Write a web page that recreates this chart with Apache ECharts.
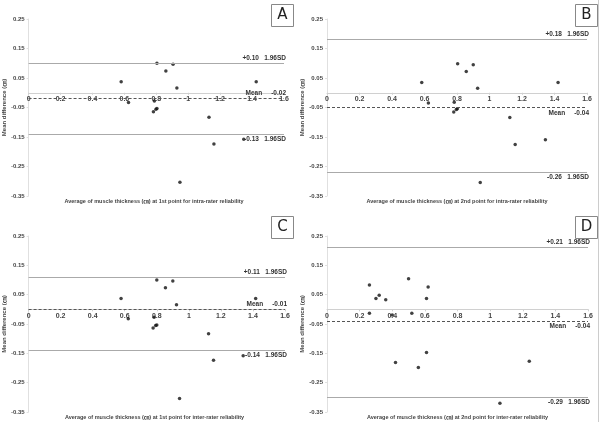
<!DOCTYPE html>
<html>
<head>
<meta charset="utf-8">
<script src="https://cdn.jsdelivr.net/npm/echarts@6/dist/echarts.min.js"></script>
<style>
  html, body { margin: 0; padding: 0; background: #fff; }
  #main { width: 602px; height: 422px; }
</style>
</head>
<body>
<div id="main"></div>
<script>
// Bland-Altman plots, four panels
const panelNames = ['A', 'B', 'C', 'D']
const xTitles = [
  'Average of muscle thickness (㎝) at 1st point for intra-rater reliability',
  'Average of muscle thickness (㎝) at 2nd point for intra-rater reliability',
  'Average of muscle thickness (㎝) at 1st point for inter-rater reliability',
  'Average of muscle thickness (㎝) at 2nd point for inter-rater reliability'
]
const yTitle = 'Mean difference (㎝)'
const xTicks = [0, 0.2, 0.4, 0.6, 0.8, 1, 1.2, 1.4, 1.6]
const yTicks = [-0.35, -0.25, -0.15, -0.05, 0.05, 0.15, 0.25]

const xA = [0.58, 0.626, 0.804, 0.905, 0.86, 0.929, 1.426, 0.788, 0.782, 0.798, 0.804, 1.13, 1.161, 1.348, 0.948]
const yA = [0.037, -0.033, 0.10, 0.097, 0.074, 0.016, 0.037, -0.028, -0.064, -0.056, -0.053, -0.083, -0.174, -0.158, -0.303]
const xB = [0.583, 0.624, 0.804, 0.90, 0.857, 0.927, 1.422, 0.783, 0.78, 0.796, 0.802, 1.125, 1.158, 1.344, 0.943]
const yB = [0.035, -0.035, 0.098, 0.095, 0.072, 0.015, 0.035, -0.032, -0.065, -0.057, -0.054, -0.084, -0.175, -0.159, -0.304]
const xC = [0.577, 0.622, 0.80, 0.90, 0.854, 0.923, 1.417, 0.783, 0.777, 0.793, 0.80, 1.123, 1.154, 1.339, 0.942]
const yC = [0.037, -0.032, 0.10, 0.097, 0.074, 0.016, 0.037, -0.027, -0.064, -0.055, -0.053, -0.083, -0.174, -0.158, -0.304]
const xD = [0.26, 0.26, 0.30, 0.32, 0.36, 0.40, 0.42, 0.50, 0.52, 0.56, 0.61, 0.61, 0.62, 1.06, 1.24]
const yD = [0.083, -0.013, 0.037, 0.048, 0.033, -0.019, -0.181, 0.104, -0.013, -0.198, -0.147, 0.037, 0.076, -0.32, -0.177]

// upper LoA, mean, lower LoA (line positions) and printed labels
const upper = [0.095, 0.178, 0.11, 0.208]
const mean = [-0.02, -0.048, -0.004, -0.044]
const lower = [-0.136, -0.274, -0.142, -0.302]
const upperText = ['+0.10', '+0.18', '+0.11', '+0.21']
const meanText = ['-0.02', '-0.04', '-0.01', '-0.04']
const lowerText = ['-0.13', '-0.26', '-0.14', '-0.29']

const xs = [xA, xB, xC, xD]
const ys = [yA, yB, yC, yD]

const FONT = 'Liberation Sans, Noto Sans CJK KR, sans-serif'
const yMin = yTicks[0]
const yMax = yTicks[yTicks.length - 1]
const grids = [
  { left: 24, top: 19, width: 260, height: 177 },
  { left: 327, top: 19, width: 260, height: 177 },
  { left: 24, top: 236, width: 261, height: 176 },
  { left: 327, top: 236, width: 261, height: 176 }
]

let myChart = echarts.init(document.getElementById('main'))

const option = {
  backgroundColor: '#fff',
  animation: false,
  grid: grids,
  title: grids.map((g, i) => ({
    text: xTitles[i],
    left: g.left + g.width / 2,
    top: g.top + g.height + 3,
    padding: 0,
    textAlign: 'center',
    textStyle: { fontSize: 5.5, fontWeight: 'bold', color: '#444', fontFamily: FONT }
  })),
  // x axis sits on y = 0: pull it up from the bottom edge of the grid
  xAxis: grids.map((g, i) => ({
    gridIndex: i,
    type: 'value',
    position: 'bottom',
    offset: -(0 - yMin) / (yMax - yMin) * g.height,
    min: xTicks[0],
    max: xTicks[xTicks.length - 1],
    interval: 0.2,
    axisLine: { onZero: false, lineStyle: { color: '#d0d0d0', width: 1 } },
    axisTick: { show: true, length: 2, lineStyle: { color: '#d0d0d0' } },
    axisLabel: { fontSize: 7, color: '#444', fontWeight: 'bold', margin: 3, fontFamily: FONT },
    splitLine: { show: false }
  })),
  yAxis: grids.map((g, i) => ({
    gridIndex: i,
    type: 'value',
    min: yMin,
    max: yMax,
    interval: 0.1,
    name: yTitle,
    nameLocation: 'middle',
    nameGap: 19,
    nameTextStyle: { fontSize: 6, fontWeight: 'bold', color: '#444', fontFamily: FONT },
    axisLine: { show: true, onZero: false, lineStyle: { color: '#e0e0e0' } },
    axisTick: { show: true, length: 2, lineStyle: { color: '#e0e0e0' } },
    axisLabel: {
      fontSize: 6, color: '#444', fontWeight: 'bold', margin: 4, fontFamily: FONT,
      formatter: v => v.toFixed(2)
    },
    splitLine: { show: false }
  })),
  series: xs.map((xArr, i) => ({
    type: 'scatter',
    xAxisIndex: i,
    yAxisIndex: i,
    symbol: 'circle',
    symbolSize: 3.5,
    itemStyle: { color: '#111' },
    data: xArr.map((x, k) => [x, ys[i][k]]),
    markLine: {
      silent: true,
      symbol: 'none',
      animation: false,
      label: { fontSize: 6.5, fontWeight: 'bold', color: '#333', fontFamily: FONT, distance: [-2, 2] },
      data: [
        {
          yAxis: upper[i],
          lineStyle: { color: '#aaa', type: 'solid', width: 1 },
          label: { position: 'insideEndTop', formatter: upperText[i] + '   1.96SD' }
        },
        {
          yAxis: mean[i],
          lineStyle: { color: '#555', type: [3, 2], width: 1 },
          label: { position: (i === 0 || i === 2) ? 'insideEndTop' : 'insideEndBottom', formatter: 'Mean     ' + meanText[i] }
        },
        {
          yAxis: lower[i],
          lineStyle: { color: '#aaa', type: 'solid', width: 1 },
          label: { position: 'insideEndBottom', formatter: lowerText[i] + '   1.96SD' }
        }
      ]
    }
  })),
  graphic: [
    { type: 'line', shape: { x1: 598.5, y1: 0, x2: 598.5, y2: 422 }, style: { stroke: '#ccc', lineWidth: 1 } }
  ].concat(panelNames.map((p, i) => {
    const bx = i % 2 === 0 ? 271 : 575
    const by = i < 2 ? 4 : 216
    return {
      type: 'group',
      left: bx,
      top: by,
      children: [
        { type: 'rect', shape: { x: 0, y: 0, width: 22, height: 22 }, style: { fill: '#fff', stroke: '#888', lineWidth: 1 } },
        { type: 'text', x: 11, y: 11, style: { text: p, fontSize: 15, fill: '#222', fontFamily: 'DejaVu Sans, sans-serif', align: 'center', verticalAlign: 'middle' } }
      ]
    }
  }))
}

myChart.setOption(option)
</script>
</body>
</html>
